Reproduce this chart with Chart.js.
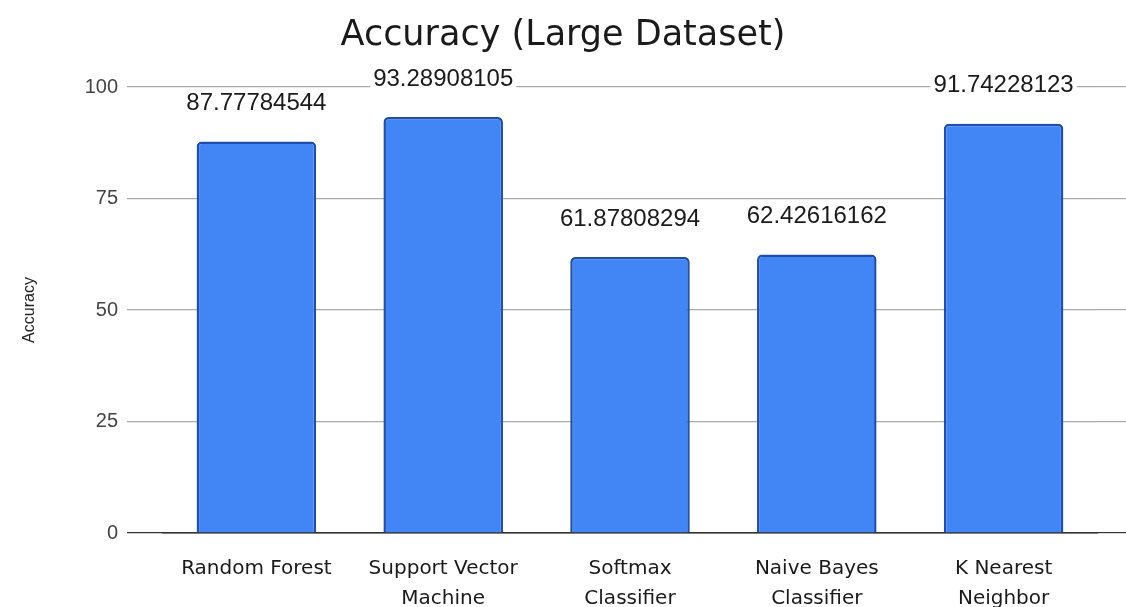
<!DOCTYPE html>
<html>
<head>
<meta charset="utf-8">
<script src="https://cdn.jsdelivr.net/npm/chart.js@4"></script>
<style>
  html, body { margin: 0; padding: 0; background: #fff; }
  #wrap { width: 1126px; height: 607px; }
</style>
</head>
<body>
<div id="wrap"><canvas id="accChart" width="1126" height="607"></canvas></div>
<script>
const categories = ['Random Forest', ['Support Vector', 'Machine'], ['Softmax', 'Classifier'], ['Naive Bayes', 'Classifier'], ['K Nearest', 'Neighbor']];
const accuracyValues = [87.77784544, 93.28908105, 61.87808294, 62.42616162, 91.74228123];
const accuracyLabels = ['87.77784544', '93.28908105', '61.87808294', '62.42616162', '91.74228123'];
const yTicks = [0, 25, 50, 75, 100];

const valueLabels = {
    id: 'valueLabels',
    afterDatasetsDraw(chart) {
        const ctx = chart.ctx;
        const meta = chart.getDatasetMeta(0);
        ctx.save();
        ctx.font = '24px "Liberation Sans", Arial, sans-serif';
        ctx.textAlign = 'center';
        ctx.textBaseline = 'middle';
        meta.data.forEach((bar, i) => {
            const text = accuracyLabels[i];
            const y = bar.y - 38;
            const w = ctx.measureText(text).width;
            ctx.fillStyle = '#fff';
            ctx.fillRect(bar.x - w / 2 - 3, y - 13, w + 6, 26);
            ctx.fillStyle = '#1a1a1a';
            ctx.fillText(text, bar.x, y);
        });
        ctx.restore();
    }
};

function gridColor(c) {
    return c.tick && c.tick.value === 0 ? '#333' : '#aaa';
}

const ctx = document.getElementById('accChart').getContext('2d');
new Chart(ctx, {
    type: 'bar',
    data: {
        labels: categories,
        datasets: [{
            data: accuracyValues,
            backgroundColor: '#4285f4',
            borderColor: '#1f4fa8',
            borderWidth: 2.5,
            borderRadius: { topLeft: 5, topRight: 5 },
            borderSkipped: 'bottom',
            barPercentage: 0.64,
            categoryPercentage: 1
        }]
    },
    options: {
        responsive: false,
        animation: false,
        layout: { padding: { left: 0, right: 0, top: 0, bottom: 0 } },
        plugins: {
            legend: { display: false },
            tooltip: { enabled: false },
            title: {
                display: true,
                text: 'Accuracy (Large Dataset)',
                color: '#1a1a1a',
                font: { family: '"DejaVu Sans", sans-serif', size: 35, weight: 'normal' },
                padding: { top: 15, bottom: 30 }
            }
        },
        scales: {
            x: {
                grid: { display: false },
                border: { display: true, color: '#333', width: 1.5 },
                ticks: {
                    color: '#1a1a1a',
                    padding: 13,
                    maxRotation: 0,
                    autoSkip: false,
                    font: { family: '"DejaVu Sans", sans-serif', size: 20, lineHeight: 1.5 }
                },
                afterFit: s => { s.height = 74; }
            },
            y: {
                min: 0,
                max: 100,
                afterBuildTicks: s => { s.ticks = yTicks.map(v => ({ value: v })); },
                grid: { color: gridColor, lineWidth: 1.2, tickLength: 36 },
                border: { display: false },
                ticks: {
                    color: '#444',
                    padding: 9,
                    font: { family: '"Liberation Sans", Arial, sans-serif', size: 20 }
                },
                title: {
                    display: true,
                    text: 'Accuracy',
                    color: '#222',
                    font: { family: '"Liberation Sans", Arial, sans-serif', size: 16 },
                    padding: { top: 20, bottom: 10 }
                },
                afterFit: s => { s.width = 163; }
            },
            y1: {
                position: 'right',
                min: 0,
                max: 100,
                afterBuildTicks: s => { s.ticks = yTicks.map(v => ({ value: v })); },
                grid: { color: gridColor, lineWidth: 1.2, tickLength: 29, drawOnChartArea: false },
                border: { display: false },
                ticks: { display: false },
                afterFit: s => { s.width = 29; }
            }
        }
    },
    plugins: [valueLabels]
});
</script>
</body>
</html>
